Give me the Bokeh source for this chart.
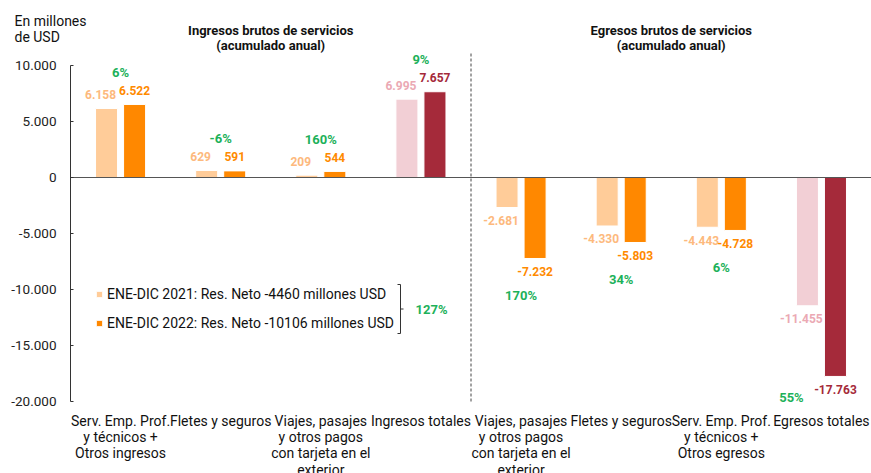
from bokeh.plotting import figure
from bokeh.models import ColumnDataSource, Range1d, FixedTicker, Legend, LegendItem
from bokeh.core.properties import value
from bokeh.embed import file_html
from bokeh.resources import INLINE

# ---------------- data ----------------
categories = [
    "Serv. Emp. Prof.\ny técnicos +\nOtros ingresos",
    "Fletes y seguros",
    "Viajes, pasajes\ny otros pagos\ncon tarjeta en el\nexterior",
    "Ingresos totales",
    "Viajes, pasajes\ny otros pagos\ncon tarjeta en el\nexterior",
    "Fletes y seguros",
    "Serv. Emp. Prof.\ny técnicos +\nOtros egresos",
    "Egresos totales",
]
v2021 = [6158, 629, 209, 6995, -2681, -4330, -4443, -11455]
v2022 = [6522, 591, 544, 7657, -7232, -5803, -4728, -17763]
var_pct = ["6%", "-6%", "160%", "9%", "170%", "34%", "6%", "55%"]
is_total = [False, False, False, True, False, False, False, True]
section_titles = ["Ingresos brutos de servicios\n(acumulado anual)",
                  "Egresos brutos de servicios\n(acumulado anual)"]
section_sizes = [4, 4]
legend_labels = ["ENE-DIC 2021: Res. Neto -4460 millones USD",
                 "ENE-DIC 2022: Res. Neto -10106 millones USD"]
net_var = "127%"
y_ticks = [-20000, -15000, -10000, -5000, 0, 5000, 10000]
y_tick_labels = ["-20.000", "-15.000", "-10.000", "-5.000", "0", "5.000", "10.000"]
y_unit_label = "En millones\nde USD"

# ---------------- style ----------------
FONT = value("Roboto")
C21, C22 = "#FFCC99", "#FF8800"
C21T, C22T = "#F2CFD5", "#A52A3A"
L21, L22 = "#FDB97D", "#FF8A00"
L21T, L22T = "#EBA9B4", "#A52A3A"
GREEN = "#1DB15A"

W, H = 871, 473
AXIS_PX = 70            # y axis position (px from left)
PPU = 0.0112            # pixels per million USD
ZERO_PX = 177           # zero line from top
n = len(categories)
XPPU = (W - AXIS_PX) / n
x_lo = -0.5 - AXIS_PX / XPPU
y_end = ZERO_PX / PPU
y_start = -(H - ZERO_PX) / PPU


def fmt(v):
    return f"{v:,}".replace(",", ".")


idx = list(range(n))
OFF, BW = 0.14, 0.22

p = figure(width=W, height=H, x_range=Range1d(x_lo, n - 0.5), y_range=Range1d(y_start, y_end),
           output_backend="svg", toolbar_location=None, x_axis_type=None,
           min_border_left=0, min_border_right=0, min_border_top=0, min_border_bottom=0)
p.grid.visible = False
p.outline_line_color = None
p.background_fill_color = "white"

src21 = ColumnDataSource(dict(
    x=[i - OFF for i in idx], top=v2021,
    color=[C21T if t else C21 for t in is_total],
    label=[fmt(v) for v in v2021],
    lcolor=[L21T if t else L21 for t in is_total],
    yoff=[-14 if v > 0 else 13 for v in v2021],
))
src22 = ColumnDataSource(dict(
    x=[i + OFF for i in idx], top=v2022,
    color=[C22T if t else C22 for t in is_total],
    label=[fmt(v) for v in v2022],
    lcolor=[L22T if t else L22 for t in is_total],
    yoff=[-14 if v > 0 else 13 for v in v2022],
))

r21 = p.vbar(x="x", top="top", bottom=0, width=BW, fill_color="color", line_color="white",
             line_width=1, source=src21)
r22 = p.vbar(x="x", top="top", bottom=0, width=BW, fill_color="color", line_color="white",
             line_width=1, source=src22)

p.text(x="x", y="top", text="label", text_color="lcolor", y_offset="yoff", x_offset=-6,
       text_align="center", text_baseline="middle", text_font=FONT, text_font_size="12px",
       text_font_style="bold", source=src21)
p.text(x="x", y="top", text="label", text_color="lcolor", y_offset="yoff",
       text_align="center", text_baseline="middle", text_font=FONT, text_font_size="12px",
       text_font_style="bold", source=src22)

# variation labels
px_min = -min(y_ticks) * PPU
pct_x, pct_y, pct_yo, pct_xo = [], [], [], []
for i in idx:
    a, b = v2021[i], v2022[i]
    if a > 0:
        pct_x.append(i); pct_y.append(max(a, b)); pct_yo.append(-32); pct_xo.append(0)
    else:
        m = min(a, b)
        if -m * PPU + 37 > px_min:
            pct_x.append(i); pct_y.append(min(y_ticks)); pct_yo.append(-4); pct_xo.append(-30)
        else:
            pct_x.append(i); pct_y.append(m); pct_yo.append(37); pct_xo.append(0)
p.text(x=pct_x, y=pct_y, text=var_pct, y_offset=pct_yo, x_offset=pct_xo,
       text_color=GREEN, text_align="center", text_baseline="middle", text_font=FONT,
       text_font_size="13px", text_font_style="bold")

# zero line
p.segment(x0=[-0.5], x1=[n - 0.5], y0=[0], y1=[0], line_color="#555555", line_width=1)

# section divider
div_x = section_sizes[0] - 0.5
p.segment(x0=[div_x], x1=[div_x], y0=[min(y_ticks)], y1=[125 / PPU],
          line_color="#444444", line_dash="3 2", line_width=1)

# section titles
title_x = [(section_sizes[0] - 1) / 2, section_sizes[0] + (section_sizes[1] - 1) / 2]
p.text(x=title_x, y=[y_end] * 2, text=section_titles, y_offset=22, text_align="center",
       text_baseline="top", text_font=FONT, text_font_size="13px", text_font_style="bold",
       text_color="#111111", text_line_height=1.05)

# category labels
p.text(x=idx, y=[min(y_ticks)] * n, text=categories, y_offset=11, text_align="center",
       text_baseline="top", text_font=FONT, text_font_size="14px", text_color="#111111",
       text_line_height=1.03)

# unit label
p.text(x=[x_lo], y=[y_end], text=[y_unit_label], x_offset=14, y_offset=12, text_align="left",
       text_baseline="top", text_font=FONT, text_font_size="14px", text_color="#111111",
       text_line_height=1.0)

# y axis (drawn at the left edge of the bars area)
ax = p.yaxis[0]
ax.fixed_location = -0.5
ax.ticker = FixedTicker(ticks=y_ticks)
ax.major_label_overrides = {t: l for t, l in zip(y_ticks, y_tick_labels)}
ax.bounds = (min(y_ticks), max(y_ticks))
ax.axis_line_color = "#333333"
ax.major_tick_line_color = "#333333"
ax.major_tick_in = 3
ax.major_tick_out = 0
ax.minor_tick_line_color = None
ax.major_label_standoff = 14
ax.major_label_text_font = "Roboto"
ax.major_label_text_font_size = "13.5px"
ax.major_label_text_color = "#222222"

# legend
legend = Legend(items=[LegendItem(label=legend_labels[0], renderers=[r21], index=0),
                       LegendItem(label=legend_labels[1], renderers=[r22], index=0)],
                location=(95, 142), padding=0, margin=0, spacing=13,
                glyph_width=8, glyph_height=8, label_height=8, label_standoff=4,
                border_line_alpha=0, background_fill_alpha=0,
                label_text_font="Roboto", label_text_font_size="14px",
                label_text_color="#111111")
p.add_layout(legend)

# bracket for net result variation
bx = x_lo + 400 / XPPU
bt, bb = -(284 - ZERO_PX) / PPU, -(333 - ZERO_PX) / PPU
hw = 3 / XPPU
p.multi_line(xs=[[bx - hw, bx, bx, bx - hw], [bx, bx + hw]],
             ys=[[bt, bt, bb, bb], [(bt + bb) / 2, (bt + bb) / 2]],
             line_color="#333333", line_width=1)
p.text(x=[bx], y=[(bt + bb) / 2], text=[net_var], x_offset=15, text_align="left",
       text_baseline="middle", text_font=FONT, text_font_size="13px",
       text_font_style="bold", text_color=GREEN)

open("out.html", "w").write(file_html(p, INLINE))
